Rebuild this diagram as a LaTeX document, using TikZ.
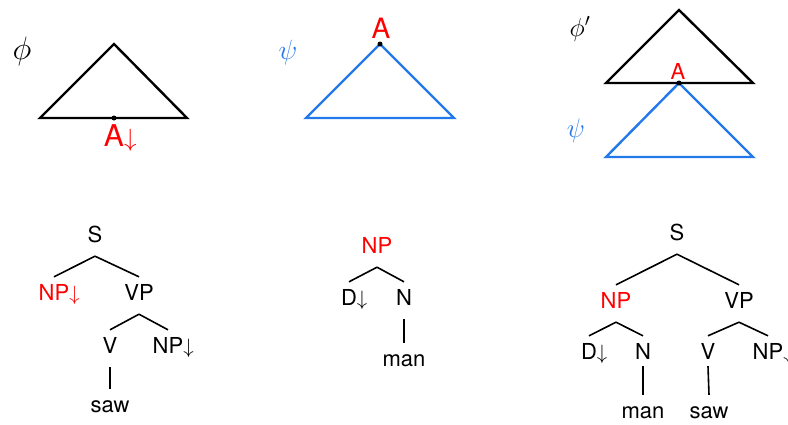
\documentclass[tikz,border=0pt]{standalone}
\usepackage{graphicx}
\usepackage{fontspec}
\setmainfont{TeX Gyre Heros}
\usetikzlibrary{positioning}
\definecolor{psiblue}{RGB}{35,120,235}
\newcommand{\bigsym}[2]{\scalebox{#1}{$#2$}}

\begin{document}
\begin{tikzpicture}[
    x=1pt, y=-1pt,
    tri/.style={line width=2.4pt},
    dot/.style={circle, fill=black, inner sep=0pt, minimum size=5pt},
    sym/.style={inner sep=0pt, font=\fontsize{24}{24}\selectfont},
    big/.style={inner sep=0pt, anchor=base, text=red, font=\fontsize{#1}{#1}\selectfont},
    cat/.style={anchor=base, inner sep=7pt, text height=16pt, text depth=7pt,
                font=\fontsize{22}{26}\selectfont},
    edge/.style={line width=1.6pt},
]
    \useasboundingbox (0,0) rectangle (788,424);

    % elementary tree with a substitution site
    \coordinate (phitop) at (114,44);
    \coordinate (phil)   at (40,118);
    \coordinate (phir)   at (187,118);
    \draw[tri] (phil) -- (phitop) -- (phir) -- cycle;
    \node[dot] (foot) at (114,118) {};
    \node[big=30] (footlbl) at (114,146) {A\rlap{$\downarrow$}};
    \node[sym] (phi) at (22,51) {\bigsym{1.3}{\phi}};

    % initial tree rooted in A
    \coordinate (psitop) at (380,44);
    \coordinate (psil)   at (306,118);
    \coordinate (psir)   at (454,118);
    \draw[tri, psiblue] (psil) -- (psitop) -- (psir) -- cycle;
    \node[dot] (root) at (psitop) {};
    \node[big=28] (rootlbl) at (381,38) {A};
    \node[sym, text=psiblue] (psi) at (288,53) {\bigsym{1.12}{\psi}};

    % result of substitution
    \coordinate (restop) at (679,10);
    \coordinate (resl)   at (606,83);
    \coordinate (resr)   at (753,83);
    \coordinate (subl)   at (606,157);
    \coordinate (subr)   at (753,157);
    \draw[tri, psiblue] (subl) -- (679,83) -- (subr) -- cycle;
    \draw[tri] (resl) -- (restop) -- (resr) -- cycle;
    \node[dot] (site) at (679,83) {};
    \node[big=22] (sitelbl) at (678,79) {A};
    \node[sym] (phiprime) at (580,29) {\bigsym{1.05}{\phi'}};
    \node[sym, text=psiblue] (psitwo) at (576,131) {\bigsym{1.08}{\psi}};

    % tree for "saw"
    \node[cat] (s1)   at (95,242)  {S};
    \node[cat, text=red] (np1) at (54,300) {NP\rlap{$\downarrow$}};
    \node[cat] (vp1)  at (139,300) {VP};
    \node[cat] (v1)   at (110,353) {V};
    \node[cat] (obj1) at (168,353) {NP\rlap{$\downarrow$}};
    \node[cat] (saw1) at (110,412) {saw};
    \draw[edge] (s1.south) -- (np1.north);
    \draw[edge] (s1.south) -- (vp1.north);
    \draw[edge] (vp1.south) -- (v1.north);
    \draw[edge] (vp1.south) -- (obj1.north);
    \draw[edge] (v1.south) -- (saw1.north);

    % tree for "man"
    \node[cat, text=red] (np2) at (377,253) {NP};
    \node[cat] (d2)   at (349,305) {D\rlap{$\downarrow$}};
    \node[cat] (n2)   at (404,305) {N};
    \node[cat] (man2) at (404,366) {man};
    \draw[edge] (np2.south) -- (d2.north);
    \draw[edge] (np2.south) -- (n2.north);
    \draw[edge] (n2.south) -- (man2.north);

    % derived tree
    \node[cat] (s3)   at (677,240) {S};
    \node[cat, text=red] (np3) at (616,308) {NP};
    \node[cat] (vp3)  at (739,308) {VP};
    \node[cat] (d3)   at (589,359) {D\rlap{$\downarrow$}};
    \node[cat, text depth=0pt] (n3) at (643,359) {N};
    \node[cat, text depth=0pt] (v3) at (708,359) {V};
    \node[cat] (obj3) at (768,359) {NP\rlap{$\downarrow$}};
    \node[cat] (man3) at (643,418) {man};
    \node[cat] (saw3) at (709,418) {saw};
    \draw[edge] (s3.south) -- (np3.north);
    \draw[edge] (s3.south) -- (vp3.north);
    \draw[edge] (np3.south) -- (d3.north);
    \draw[edge] (np3.south) -- (n3.north);
    \draw[edge] (vp3.south) -- (v3.north);
    \draw[edge] (vp3.south) -- (obj3.north);
    \draw[edge] (n3.south) -- (man3.north);
    \draw[edge] (v3.south) -- (saw3.north);
\end{tikzpicture}
\end{document}
